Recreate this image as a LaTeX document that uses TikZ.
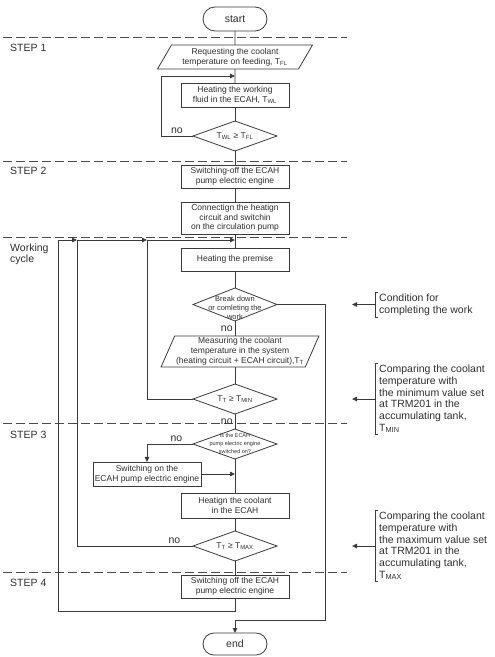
\documentclass[tikz,border=0pt]{standalone}
\usepackage{fontspec}
\setmainfont{Liberation Sans}
\usetikzlibrary{arrows.meta, positioning, shapes.geometric, shapes.misc}
\definecolor{flowline}{HTML}{3A3A3A}
\definecolor{flowtext}{HTML}{2E2E2E}
\definecolor{stepline}{HTML}{4A4A4A}

\begin{document}
\begin{tikzpicture}[
  x=1pt, y=1pt,
  every node/.style={text=flowtext},
  term/.style={
    rounded rectangle, draw=flowline, line width=0.8pt, outer sep=0pt,
    minimum width=64pt, minimum height=24pt, inner sep=0pt,
    font=\fontsize{10.5}{11.7}\selectfont
  },
  box/.style={
    rectangle, draw=flowline, line width=0.8pt, fill=white, outer sep=0pt,
    minimum width=108pt, align=center, inner sep=1.5pt,
    font=\fontsize{8.5}{9.8}\selectfont
  },
  io/.style={
    trapezium, trapezium stretches body, draw=flowline, line width=0.8pt,
    outer sep=0pt, align=center, inner sep=1.5pt, font=\fontsize{8.5}{9.8}\selectfont
  },
  test/.style={
    diamond, draw=flowline, line width=0.8pt, outer sep=0pt,
    minimum width=84pt, minimum height=30pt, inner sep=0pt
  },
  dtext/.style={font=\fontsize{8.5}{9.8}\selectfont, align=center, inner sep=0pt},
  flow/.style={draw=flowline, line width=0.8pt},
  arrow/.style={flow, -{Triangle[length=5pt, width=4.5pt]}},
  nolab/.style={font=\fontsize{10.5}{11.7}\selectfont, inner sep=2pt},
  steplab/.style={font=\fontsize{10.5}{11}\selectfont, anchor=west, align=left, inner sep=0pt},
  note/.style={font=\fontsize{10.5}{11.7}\selectfont, anchor=west, align=left,
    inner xsep=0pt, inner ysep=1.5pt},
  sep/.style={draw=stepline, line width=1pt, dash pattern=on 9pt off 4pt},
  node distance=14pt
]
\useasboundingbox (0,0) rectangle (495,657);

% Lanes of the return loops and of the notes
\coordinate (laneA) at (58,0);
\coordinate (laneB) at (77,0);
\coordinate (laneC) at (147,0);
\coordinate (laneR) at (325,0);
\coordinate (laneT) at (352,0);
\coordinate (laneN) at (379,0);

% Step separators
\draw[sep] (3,619) -- (347,619);
\draw[sep] (3,495) -- (347,495);
\draw[sep] (3,419) -- (347,419);
\draw[sep] (3,233) -- (347,233);
\draw[sep] (3,84) -- (347,84);

\node[steplab] (step1) at (10,609) {STEP 1};
\node[steplab] (step2) at (10,486) {STEP 2};
\node[steplab] (cycle) at (10,403) {Working\\cycle};
\node[steplab] (step3) at (10,222) {STEP 3};
\node[steplab] (step4) at (10,74) {STEP 4};

% Nodes
\node[term] (start) at (235,638) {start};
\node[io, below=of start, trapezium left angle=56, trapezium right angle=124,
  minimum width=155pt, minimum height=24pt] (request)
  {Requesting the coolant\\temperature on feeding, T\textsubscript{FL}};
\node[box, below=of request, minimum height=24pt] (heatwl)
  {Heating the working\\fluid in the ECAH, T\textsubscript{WL}};
\node[test, below=of heatwl] (cmpwl) {};
\node[dtext] (cmpwltxt) at (cmpwl) {T\textsubscript{WL} ≥ T\textsubscript{FL}};

\node[box, below=of cmpwl, minimum height=23pt] (pumpoff)
  {Switching-off the ECAH\\pump electric engine};
\node[box, below=of pumpoff, minimum height=32pt] (connect)
  {Connectign the heatign\\circuit and switchin\\on the circulation pump};

\node[box, below=of connect, minimum height=23pt] (premise) {Heating the premise};
\node[test, below=17pt of premise, minimum height=33pt] (stop) {};
\node[dtext, font=\fontsize{7.5}{9}\selectfont] (stoptxt) at ([yshift=-3pt]stop.center)
  {Break down\\or comleting the\\work};
\node[io, below=15pt of stop, xshift=5pt, trapezium left angle=66, trapezium right angle=114,
  minimum width=146pt, minimum height=31pt] (measure)
  {Measuring the coolant\\temperature in the system\\(heating circuit + ECAH circuit),T\textsubscript{T}};
\node[test, below=17pt of measure, xshift=-5pt] (cmpmin) {};
\node[dtext] (cmpmintxt) at (cmpmin) {T\textsubscript{T} ≥ T\textsubscript{MIN}};

\node[test, below=15pt of cmpmin] (enginechk) {};
\node[dtext, font=\fontsize{5.5}{8}\selectfont] (enginechktxt) at (enginechk)
  {Is the ECAH\\pump electric engine\\switched on?};
\node[box, minimum height=24pt] (pumpon) at (147,183)
  {Switching on the\\ECAH pump electric engine};
\node[box, below=34pt of enginechk, minimum height=25pt] (heatcool)
  {Heatign the coolant\\in the ECAH};
\node[test, below=13pt of heatcool] (cmpmax) {};
\node[dtext] (cmpmaxtxt) at (cmpmax) {T\textsubscript{T} ≥ T\textsubscript{MAX}};

\node[box, below=of cmpmax, minimum height=23pt] (engineoff)
  {Switching off the ECAH\\pump electric engine};
\node[term, below=35pt of engineoff, minimum height=22pt] (finish) {end};

% Junctions
\coordinate[below=7pt of request] (j1);
\coordinate[below=6pt of connect] (j3);
\coordinate[below=13pt of engineoff] (j4);
\coordinate[above=13pt of finish] (j5);

% Arrows
\draw[flow] (start) -- (request);
\draw[flow] (request) -- (heatwl);
\draw[flow] (heatwl) -- (cmpwl);
\draw[flow] (cmpwl) -- (pumpoff);
\draw[flow] (pumpoff) -- (connect);
\draw[flow] (connect) -- (premise);
\draw[flow] (premise) -- (stop);
\draw[flow] (stop) -- node[nolab, left]{no} (stop.south |- measure.north);
\draw[flow] (cmpmin.north |- measure.south) -- (cmpmin);
\draw[flow] (cmpmin) -- node[nolab, left]{no} (enginechk);
\draw[flow] (enginechk) -- (heatcool);
\draw[flow] (heatcool) -- (cmpmax);
\draw[flow] (cmpmax) -- (engineoff);

% Feedback loops
\draw[arrow] (cmpwl.west) -- node[nolab, above]{no} ++(-32,0) |- (j1);
\draw[arrow] (enginechk.west) -| node[nolab, above, pos=0.18]{no} (pumpon.north);
\draw[arrow] (pumpon.east) -- (pumpon.east -| heatcool.north);
\draw[arrow] (cmpmin.west) -| (laneC |- j3) -- (j3);
\draw[arrow] (cmpmax.west) -| node[nolab, above, pos=0.08]{no} (laneB |- j3) -- (laneC |- j3);
\draw[arrow] (engineoff) -- (j4) -| (laneA |- j3) -- (laneB |- j3);
\draw[arrow] (stop.east) -| (laneR |- j5) -- (j5) -- (finish);

% Notes on the right
\node[note] (notestop) at (stop.east -| laneN) {Condition for\\completing the work};
\node[note] (notemin) at (cmpmin.east -| laneN)
  {Comparing the coolant\\temperature with\\the minimum value set\\at TRM201 in the\\accumulating tank,\\T\textsubscript{MIN}};
\node[note] (notemax) at (cmpmax.east -| laneN)
  {Comparing the coolant\\temperature with\\the maximum value set\\at TRM201 in the\\accumulating tank,\\T\textsubscript{MAX}};
\coordinate (tipstop) at (stop.east -| laneT);
\coordinate (tipmin) at (cmpmin.east -| laneT);
\coordinate (tipmax) at (cmpmax.east -| laneT);

\draw[flow] ([xshift=-1pt]notestop.north west) -- ++(-3,0) |- ([xshift=-1pt]notestop.south west);
\draw[flow] ([xshift=-1pt]notemin.north west) -- ++(-3,0) |- ([xshift=-1pt]notemin.south west);
\draw[flow] ([xshift=-1pt]notemax.north west) -- ++(-3,0) |- ([xshift=-1pt]notemax.south west);
\draw[arrow] ([xshift=-4pt]notestop.west) -- (tipstop);
\draw[arrow] ([xshift=-4pt]notemin.west) -- (tipmin);
\draw[arrow] ([xshift=-4pt]notemax.west) -- (tipmax);

\end{tikzpicture}
\end{document}
